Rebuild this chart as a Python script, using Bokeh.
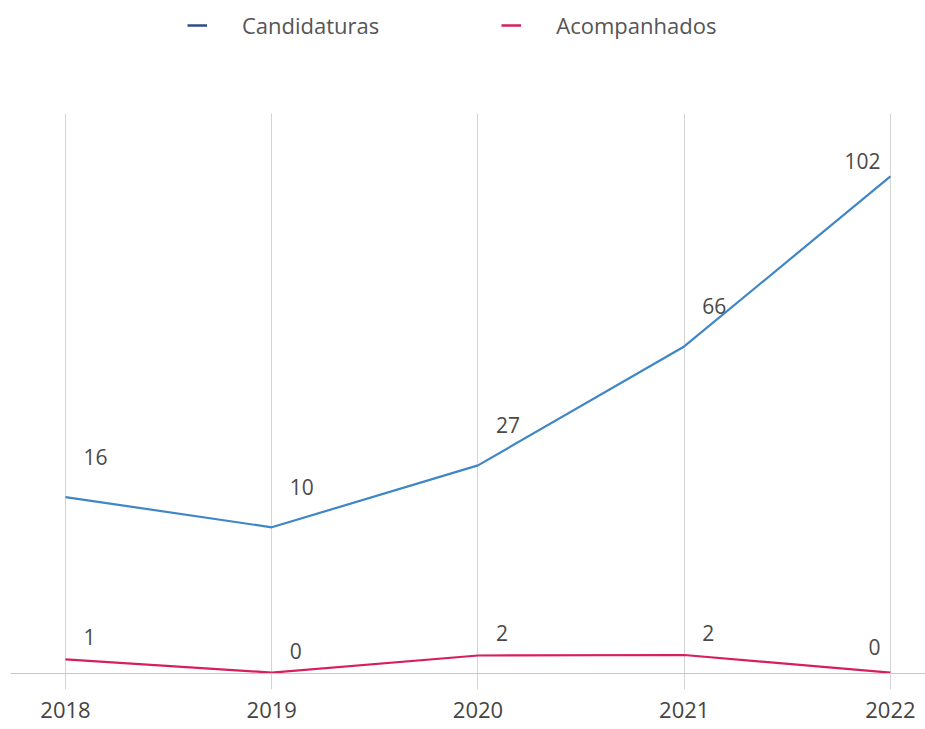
from bokeh.plotting import figure
from bokeh.models import (ColumnDataSource, Span, FixedTicker, Legend, LegendItem,
                          CDSView, IndexFilter, Range1d)
from bokeh.layouts import column
from bokeh.core.properties import value
from bokeh.embed import file_html
from bokeh.resources import INLINE

# ---- data ----
years = ["2018", "2019", "2020", "2021", "2022"]
candidaturas = [16, 10, 27, 66, 102]          # value labels
acompanhados = [1, 0, 2, 2, 0]                # value labels
# level of each line as drawn in the reference (hidden axis, same units)
candidaturas_linha = [36.2, 30.0, 42.7, 67.1, 102.0]
acompanhados_linha = [2.9, 0.2, 3.7, 3.8, 0.2]

xs = list(range(len(years)))
nan = float("nan")

BLUE = "#3f86c6"
BLUE_LEG = "#2e4c89"
PINK = "#d61f5d"
FONT = "Open Sans"
W = 925

# ---- legend strip ----
lg = figure(width=W, height=113, output_backend="svg", toolbar_location=None,
            x_axis_location=None, y_axis_location=None,
            x_range=Range1d(0, 1), y_range=Range1d(0, 1),
            min_border=0)
lg.outline_line_color = None
lg.grid.grid_line_color = None
leg_c = lg.line(x=[nan], y=[nan], line_color=BLUE_LEG, line_width=2.5)
leg_a = lg.line(x=[nan], y=[nan], line_color=PINK, line_width=2.5)
legend = Legend(items=[LegendItem(label="Candidaturas", renderers=[leg_c]),
                       LegendItem(label="Acompanhados", renderers=[leg_a])],
                orientation="horizontal", location=(177, 73),
                label_text_font=FONT, label_text_font_size="22px",
                label_text_color="#555555", glyph_width=20, label_standoff=35,
                spacing=122, border_line_color=None, background_fill_alpha=0,
                padding=0, margin=0)
lg.add_layout(legend)

# ---- main chart ----
p = figure(width=W, height=616, output_backend="svg", toolbar_location=None,
           y_axis_location=None,
           x_range=Range1d(-0.2667, 4.170), y_range=Range1d(-3.28, 114.9),
           min_border_left=10, min_border_right=0, min_border_top=0,
           min_border_bottom=40)
p.outline_line_color = None

p.ygrid.grid_line_color = None
p.xgrid.grid_line_color = "#d4d4d4"
p.xgrid.grid_line_width = 1

p.xaxis.ticker = FixedTicker(ticks=xs)
p.xaxis.major_label_overrides = {x: y for x, y in zip(xs, years)}
p.xaxis.axis_line_color = None
p.xaxis.major_tick_line_color = None
p.xaxis.minor_tick_line_color = None
p.xaxis.major_tick_out = 0
p.xaxis.major_label_standoff = 12
p.xaxis.major_label_text_font = FONT
p.xaxis.major_label_text_font_size = "22px"
p.xaxis.major_label_text_color = "#444444"

p.add_layout(Span(location=0, dimension="width", line_color="#c8c8c8", line_width=1))

src_c = ColumnDataSource(dict(x=xs, y=candidaturas_linha, lab=[str(v) for v in candidaturas]))
src_a = ColumnDataSource(dict(x=xs, y=acompanhados_linha, lab=[str(v) for v in acompanhados]))

p.line("x", "y", source=src_c, line_color=BLUE, line_width=2.2)
p.line("x", "y", source=src_a, line_color=PINK, line_width=2.2)

n = len(years)
first = CDSView(filter=IndexFilter(list(range(n - 1))))
last = CDSView(filter=IndexFilter([n - 1]))

for src, dy, dy_last in ((src_c, -40, -15), (src_a, -22, -26)):
    p.text("x", "y", text="lab", source=src, view=first, text_align="left",
           text_baseline="middle", x_offset=18, y_offset=dy,
           text_font=value(FONT), text_font_size="21px", text_color="#4a4a4a")
    p.text("x", "y", text="lab", source=src, view=last, text_align="right",
           text_baseline="middle", x_offset=-10, y_offset=dy_last,
           text_font=value(FONT), text_font_size="21px", text_color="#4a4a4a")

open("out.html", "w").write(file_html(column(lg, p, spacing=0), INLINE))
